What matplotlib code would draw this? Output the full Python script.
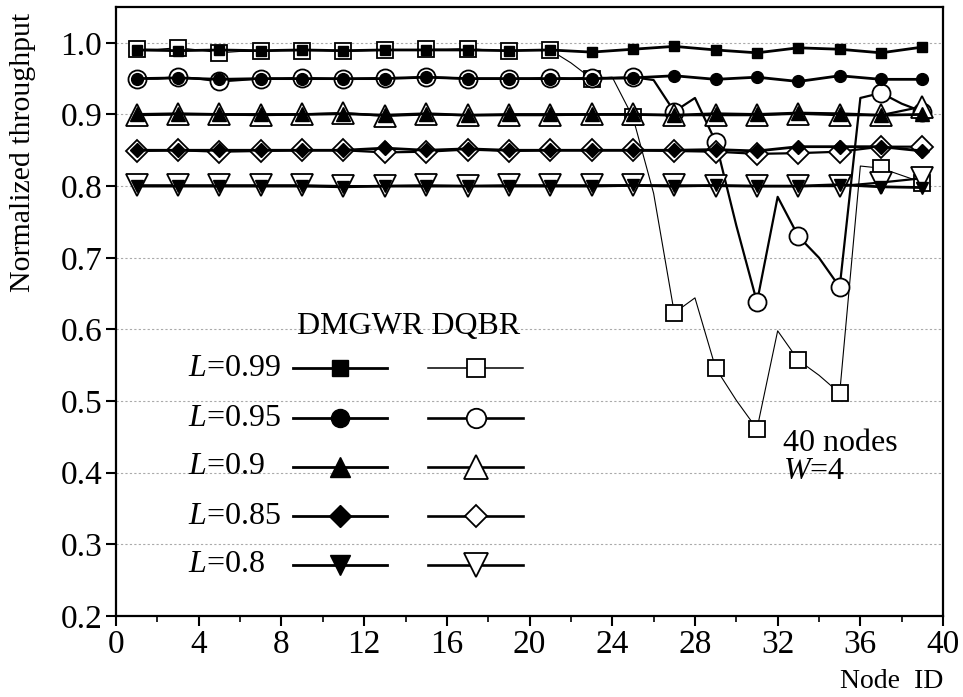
import matplotlib
matplotlib.use('Agg')
import matplotlib.pyplot as plt
from matplotlib.lines import Line2D
from matplotlib.ticker import MultipleLocator, FormatStrFormatter

plt.rcParams['font.family'] = 'Liberation Serif'
plt.rcParams['mathtext.fontset'] = 'custom'
plt.rcParams['mathtext.rm'] = 'Liberation Serif'
plt.rcParams['mathtext.it'] = 'Liberation Serif:italic'

### loss levels and node ids
levels = ['0.99', '0.95', '0.9', '0.85', '0.8']
nodes_odd = list(range(1, 40, 2))
nodes_all = list(range(1, 40))

### DMGWR throughput (odd nodes)
dmgwr_099 = [0.990, 0.989, 0.990, 0.989, 0.990, 0.989, 0.990, 0.990, 0.990, 0.989,
             0.990, 0.987, 0.991, 0.995, 0.990, 0.986, 0.993, 0.991, 0.986, 0.994]
dmgwr_095 = [0.950, 0.951, 0.949, 0.950, 0.950, 0.950, 0.950, 0.952, 0.950, 0.950,
             0.950, 0.950, 0.951, 0.954, 0.949, 0.952, 0.946, 0.954, 0.949, 0.949]
dmgwr_090 = [0.900, 0.901, 0.900, 0.900, 0.900, 0.901, 0.899, 0.901, 0.899, 0.900,
             0.900, 0.900, 0.900, 0.899, 0.901, 0.900, 0.902, 0.901, 0.899, 0.900]
dmgwr_085 = [0.850, 0.850, 0.850, 0.850, 0.850, 0.850, 0.853, 0.850, 0.852, 0.850,
             0.850, 0.850, 0.850, 0.850, 0.851, 0.849, 0.855, 0.855, 0.855, 0.849]
dmgwr_080 = [0.800, 0.800, 0.800, 0.800, 0.800, 0.799, 0.800, 0.800, 0.800, 0.800,
             0.800, 0.800, 0.801, 0.800, 0.801, 0.800, 0.800, 0.802, 0.799, 0.798]

### DQBR throughput (every node for the two unstable levels)
dqbr_099 = [0.991, 0.991, 0.993, 0.990, 0.986, 0.988, 0.988, 0.989, 0.989, 0.989,
            0.988, 0.989, 0.990, 0.990, 0.991, 0.991, 0.992, 0.990, 0.989, 0.990,
            0.990, 0.972, 0.950, 0.952, 0.896, 0.790, 0.623, 0.644, 0.546, 0.501,
            0.461, 0.598, 0.557, 0.536, 0.511, 0.828, 0.825, 0.815, 0.805]
dqbr_095 = [0.950, 0.950, 0.952, 0.950, 0.946, 0.948, 0.950, 0.950, 0.951, 0.950,
            0.949, 0.950, 0.951, 0.951, 0.952, 0.951, 0.950, 0.950, 0.950, 0.950,
            0.951, 0.950, 0.951, 0.951, 0.952, 0.948, 0.904, 0.923, 0.862, 0.745,
            0.638, 0.785, 0.730, 0.700, 0.659, 0.923, 0.930, 0.915, 0.904]
dqbr_090 = [0.899, 0.900, 0.900, 0.899, 0.900, 0.902, 0.898, 0.900, 0.899, 0.899,
            0.899, 0.900, 0.900, 0.899, 0.899, 0.899, 0.901, 0.899, 0.899, 0.911]
dqbr_085 = [0.849, 0.850, 0.848, 0.849, 0.850, 0.850, 0.847, 0.848, 0.851, 0.849,
            0.850, 0.850, 0.850, 0.849, 0.848, 0.845, 0.846, 0.848, 0.855, 0.855]
dqbr_080 = [0.801, 0.801, 0.801, 0.801, 0.801, 0.800, 0.800, 0.801, 0.800, 0.801,
            0.801, 0.801, 0.801, 0.801, 0.800, 0.800, 0.800, 0.800, 0.805, 0.811]

dmgwr = [dmgwr_099, dmgwr_095, dmgwr_090, dmgwr_085, dmgwr_080]
dqbr = [dqbr_099, dqbr_095, dqbr_090, dqbr_085, dqbr_080]
dqbr_x = [nodes_all, nodes_all, nodes_odd, nodes_odd, nodes_odd]

markers = ['s', 'o', '^', 'D', 'v']
ms_filled = [7, 8.5, 9.5, 7, 9]
ms_open = [11.5, 13, 16, 11.5, 16]
leg_filled = [11, 13, 15, 11, 15]
leg_open = [13, 14, 17, 11.5, 17]
dqbr_lw = [0.8, 1.6, 1.6, 1.6, 1.6]

fig = plt.figure(figsize=(9.63, 6.97), dpi=100)
ax = fig.add_axes([0.1205, 0.1162, 0.8588, 0.8738])

### DQBR first so the filled DMGWR markers sit on top
for i in range(5):
    x = dqbr_x[i]
    every = 2 if len(x) == len(nodes_all) else 1
    ax.plot(x, dqbr[i], color='black', lw=dqbr_lw[i], marker=markers[i],
            ms=ms_open[i], mfc='white', mec='black', mew=1.3, markevery=every, zorder=3)
for i in range(5):
    ax.plot(nodes_odd, dmgwr[i], color='black', lw=2.0, marker=markers[i],
            ms=ms_filled[i], mfc='black', mec='black', zorder=4)

ax.set_xlim(0, 40)
ax.set_ylim(0.2, 1.05)
ax.xaxis.set_major_locator(MultipleLocator(4))
ax.xaxis.set_minor_locator(MultipleLocator(2))
ax.yaxis.set_major_locator(MultipleLocator(0.1))
ax.yaxis.set_major_formatter(FormatStrFormatter('%.1f'))
ax.tick_params(axis='both', which='major', direction='out', length=7, width=1.5,
               labelsize=24, pad=3)
ax.tick_params(axis='x', which='minor', direction='out', length=4, width=1.2)
ax.tick_params(axis='y', which='minor', left=False)
for s in ax.spines.values():
    s.set_linewidth(1.6)

ax.yaxis.grid(True, linestyle=(0, (2, 2)), color='#aaaaaa', lw=0.8)
ax.set_axisbelow(True)

ax.set_ylabel('Normalized throughput', fontsize=21.5)
ax.yaxis.set_label_coords(-0.097, 0.762)
ax.set_xlabel('Node  ID', fontsize=20, loc='right', labelpad=6)

### hand-built legend: label, DMGWR sample, DQBR sample
rows_y = [0.407, 0.325, 0.245, 0.164, 0.084]
ax.text(0.219, 0.475, 'DMGWR DQBR', transform=ax.transAxes, fontsize=23,
        va='center', ha='left')
for i in range(5):
    yy = rows_y[i]
    ax.text(0.087, yy, r'$L$=' + levels[i], transform=ax.transAxes, fontsize=23,
            va='center', ha='left')
    ax.add_line(Line2D([0.214, 0.328], [yy, yy], transform=ax.transAxes,
                       color='black', lw=2.0))
    ax.add_line(Line2D([0.271], [yy], transform=ax.transAxes, marker=markers[i],
                       ms=leg_filled[i], mfc='black', mec='black', lw=0))
    ax.add_line(Line2D([0.377, 0.492], [yy, yy], transform=ax.transAxes,
                       color='black', lw=dqbr_lw[i] + 0.3))
    ax.add_line(Line2D([0.435], [yy], transform=ax.transAxes, marker=markers[i],
                       ms=leg_open[i], mfc='white', mec='black', mew=1.3, lw=0))

ax.text(0.807, 0.284, '40 nodes', transform=ax.transAxes, fontsize=23,
        va='center', ha='left')
ax.text(0.807, 0.238, r'$W$=4', transform=ax.transAxes, fontsize=23,
        va='center', ha='left')

plt.savefig('out.png', dpi=100)
